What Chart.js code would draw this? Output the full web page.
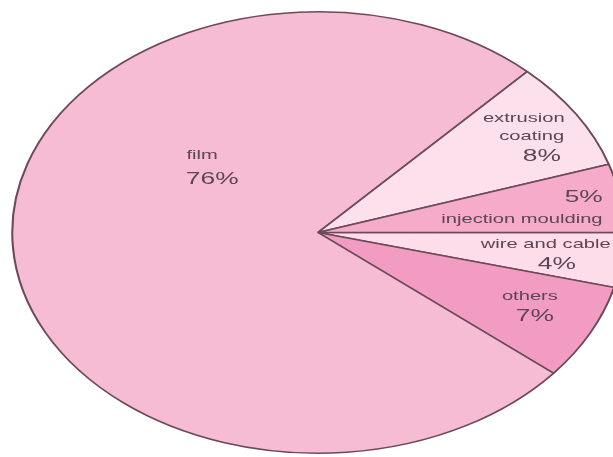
<!DOCTYPE html>
<html>
<head>
<meta charset="utf-8">
<script src="https://cdn.jsdelivr.net/npm/chart.js@4"></script>
<style>
  html, body { margin: 0; padding: 0; background: #fff; overflow: hidden; }
  #wrap { width: 613px; height: 457px; }
</style>
</head>
<body>
<div id="wrap"><canvas id="pie" width="613" height="457"></canvas></div>
<script>
// slices, clockwise from 3 o'clock
const categories = ['wire and cable', 'others', 'film', 'extrusion coating', 'injection moulding'];
const shares = [4, 7, 76, 8, 5];
const sliceColors = ['#fcdde9', '#f29cc2', '#f6bcd4', '#fce0ec', '#f5abc9'];

// label text lines per slice: [text, isPercent]
const labelLines = [
  [['wire and cable', false], ['4%', true]],
  [['others', false], ['7%', true]],
  [['film', false], ['76%', true]],
  [['extrusion', false], ['coating', false], ['8%', true]],
  [['5%', true], ['injection moulding', false]]
];
// where each line sits, as fractions of the ellipse radii from the centre
const labelSpots = [
  [[0.745, 0.054], [0.781, 0.145]],
  [[0.693, 0.290], [0.709, 0.380]],
  [[-0.379, -0.348], [-0.346, -0.240]],
  [[0.673, -0.516], [0.699, -0.434], [0.732, -0.344]],
  [[0.869, -0.158], [0.667, -0.059]]
];

const STRETCH = 1.385; // the pie is drawn as a circle and widened into an ellipse
const TEXT_STRETCH = 1.55;

const ellipsePlugin = {
  id: 'ellipse',
  beforeDatasetsDraw(chart) {
    const arc = chart.getDatasetMeta(0).data[0];
    const ctx = chart.ctx;
    ctx.save();
    ctx.translate(arc.x, 0);
    ctx.scale(STRETCH, 1);
    ctx.translate(-arc.x, 0);
  },
  afterDatasetsDraw(chart) {
    chart.ctx.restore();
  }
};

const labelPlugin = {
  id: 'sliceLabels',
  afterDraw(chart) {
    const arc = chart.getDatasetMeta(0).data[0];
    const rx = arc.outerRadius * STRETCH;
    const ry = arc.outerRadius;
    const ctx = chart.ctx;
    ctx.fillStyle = '#5e4553';
    ctx.textAlign = 'center';
    ctx.textBaseline = 'middle';
    labelLines.forEach((lines, i) => {
      lines.forEach(([txt, pct], j) => {
        const [fx, fy] = labelSpots[i][j];
        ctx.save();
        ctx.translate(arc.x + fx * rx, arc.y + fy * ry);
        ctx.scale(TEXT_STRETCH, 1);
        ctx.font = pct ? '17px "Liberation Sans", Arial, sans-serif' : '13px "Liberation Sans", Arial, sans-serif';
        ctx.fillText(txt, 0, 0);
        ctx.restore();
      });
    });
  }
};

new Chart(document.getElementById('pie'), {
  type: 'pie',
  data: {
    labels: categories,
    datasets: [{
      data: shares,
      backgroundColor: sliceColors,
      borderColor: '#6d4a5a',
      borderWidth: 1.5,
      clip: false
    }]
  },
  options: {
    responsive: false,
    animation: false,
    rotation: 90,
    layout: { padding: { left: 23, right: 0, top: 11, bottom: 3 } },
    plugins: {
      legend: { display: false },
      tooltip: { enabled: false }
    }
  },
  plugins: [ellipsePlugin, labelPlugin]
});
</script>
</body>
</html>
